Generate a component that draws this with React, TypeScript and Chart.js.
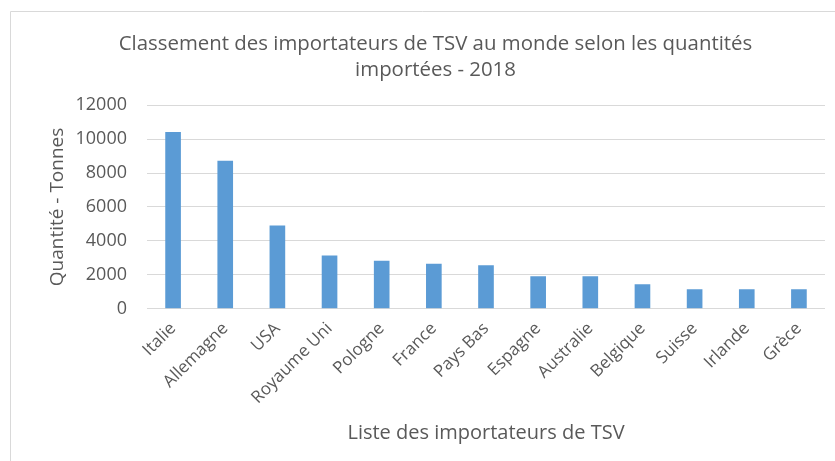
import React, { useEffect, useRef } from "react";
import { Chart, registerables } from "chart.js";

Chart.register(...registerables);

const categories = [
  "Italie", "Allemagne", "USA", "Royaume Uni", "Pologne", "France", "Pays Bas",
  "Espagne", "Australie", "Belgique", "Suisse", "Irlande", "Grèce",
];
const quantities = [10420, 8730, 4900, 3130, 2830, 2650, 2560, 1920, 1920, 1440, 1140, 1140, 1140];
const titleLines = [
  "Classement des importateurs de TSV au monde selon les quantités",
  "importées - 2018",
];
const yTitle = "Quantité - Tonnes";
const xTitle = "Liste des importateurs de TSV";

const FONT = "'Open Sans', sans-serif";
const TEXT = "#595959";
const PAD_LEFT = 46;

const framePlugin = {
  id: "frame",
  beforeDraw(chart: any) {
    const ctx = chart.ctx;
    ctx.save();
    ctx.strokeStyle = "#d9d9d9";
    ctx.lineWidth = 1;
    ctx.beginPath();
    ctx.moveTo(10.5, 461);
    ctx.lineTo(10.5, 11.5);
    ctx.lineTo(835, 11.5);
    ctx.stroke();
    ctx.restore();
  },
};

export default function App() {
  const ref = useRef<HTMLCanvasElement>(null);
  useEffect(() => {
    if (!ref.current) return;
    const chart = new Chart(ref.current, {
      type: "bar",
      data: {
        labels: categories,
        datasets: [
          {
            data: quantities,
            backgroundColor: "#5b9bd5",
            categoryPercentage: 1,
            barPercentage: 0.3,
          },
        ],
      },
      options: {
        animation: false,
        responsive: false,
        layout: { padding: { left: PAD_LEFT, right: 10, top: 31, bottom: 16 } },
        plugins: {
          legend: { display: false },
          tooltip: { enabled: false },
          title: {
            display: true,
            text: titleLines,
            color: TEXT,
            font: { family: FONT, size: 20.4, weight: "normal", lineHeight: 1.28 },
            padding: { top: 0, bottom: 22 },
          },
        },
        scales: {
          x: {
            grid: { display: false },
            border: { display: false },
            ticks: {
              color: TEXT,
              font: { family: FONT, size: 17 },
              maxRotation: 45,
              minRotation: 45,
              padding: 2,
            },
            title: {
              display: true,
              text: xTitle,
              color: TEXT,
              font: { family: FONT, size: 20, lineHeight: 1.2 },
              padding: { top: 11, bottom: 0 },
            },
          },
          y: {
            min: 0,
            max: 12000,
            afterFit: (scale: any) => {
              scale.width = 147 - PAD_LEFT;
            },
            ticks: {
              stepSize: 2000,
              color: TEXT,
              font: { family: FONT, size: 18 },
              padding: 20,
              callback: (v: any) => String(v),
            },
            grid: { color: "#d9d9d9", drawTicks: false },
            border: { display: false },
            title: {
              display: true,
              text: yTitle,
              color: TEXT,
              font: { family: FONT, size: 19 },
              padding: { top: 0, bottom: 6 },
            },
          },
        },
      },
      plugins: [framePlugin],
    });
    return () => chart.destroy();
  }, []);
  return (
    <div style={{ position: "absolute", left: 0, top: 0, width: 835, height: 461, background: "#fff" }}>
      <canvas ref={ref} width={835} height={461} style={{ display: "block" }} />
    </div>
  );
}
